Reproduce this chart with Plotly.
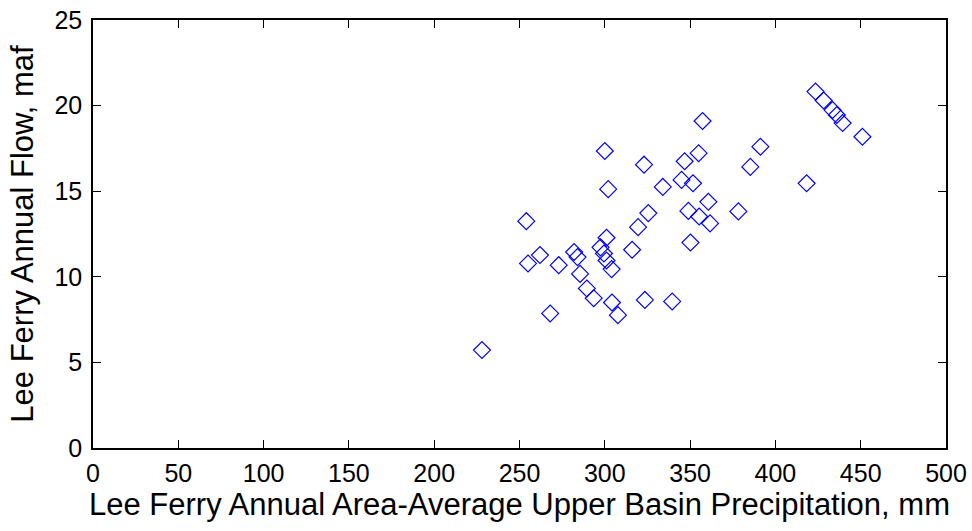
import plotly.graph_objects as go

# Lee Ferry annual area-average upper basin precipitation (mm)
precip_mm = [228, 254, 255, 262, 268, 273, 282, 284, 285.5, 289.5, 293.5,
             297.5, 299.5, 301, 301, 304, 300, 302, 304.2, 307.7, 316,
             319.5, 325.5, 323, 323.5, 334, 339.5, 346.8, 345, 351.7, 355,
             357.3, 349, 355.3, 360.7, 361.7, 350.2, 378.3, 385.3, 391.2,
             418.3, 423.5, 428.3, 433.5, 436, 439.4, 451]
# Lee Ferry annual flow (maf)
flow_maf = [5.72, 13.25, 10.78, 11.27, 7.86, 10.68, 11.45, 11.15, 10.17, 9.32, 8.75,
            11.72, 11.36, 10.95, 12.28, 10.45, 17.35, 15.12, 8.5, 7.76, 11.58,
            12.9, 13.72, 16.55, 8.65, 15.25, 8.56, 16.75, 15.66, 15.46, 17.22,
            19.1, 13.85, 13.52, 14.38, 13.12, 12.0, 13.82, 16.42, 17.6,
            15.46, 20.82, 20.3, 19.74, 19.45, 18.98, 18.18]

x_ticks = [0, 50, 100, 150, 200, 250, 300, 350, 400, 450, 500]
y_ticks = [0, 5, 10, 15, 20, 25]

font_family = "Liberation Sans, Arial, sans-serif"

fig = go.Figure()
fig.add_trace(go.Scatter(
    x=precip_mm, y=flow_maf, mode="markers",
    marker=dict(symbol="diamond-open", size=13,
                color="rgb(0,0,255)", line=dict(color="rgb(0,0,255)", width=1.2)),
    showlegend=False, hoverinfo="x+y",
))

axis_common = dict(
    showline=True, linecolor="black", linewidth=1.5, mirror="ticks",
    ticks="inside", ticklen=8, tickwidth=1, tickcolor="black",
    showgrid=False, zeroline=False, automargin=False,
    tickfont=dict(family=font_family, size=25, color="black"),
)

fig.update_layout(
    width=972, height=531,
    margin=dict(l=93, r=26, t=20, b=83, autoexpand=False),
    paper_bgcolor="white", plot_bgcolor="white",
    font=dict(family=font_family, color="black"),
    xaxis=dict(range=[0, 500], tickvals=x_ticks, ticktext=[str(v) for v in x_ticks],
               title=dict(text="Lee Ferry Annual Area-Average Upper Basin Precipitation, mm",
                          font=dict(family=font_family, size=31, color="black"), standoff=7),
               ticklabelstandoff=2,
               **axis_common),
    yaxis=dict(range=[0, 25], tickvals=y_ticks, ticktext=[str(v) for v in y_ticks],
               title=dict(text="Lee Ferry Annual Flow, maf",
                          font=dict(family=font_family, size=31, color="black"), standoff=12),
               ticklabelstandoff=4,
               **axis_common),
)

fig.write_html("out.html")
